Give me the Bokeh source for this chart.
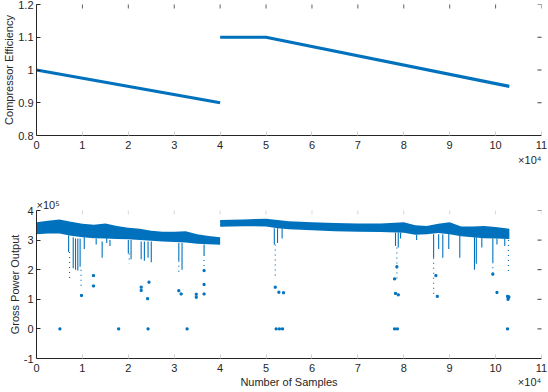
import math
from bokeh.plotting import figure
from bokeh.layouts import column
from bokeh.models import FixedTicker, Range1d, Title, LinearAxis
from bokeh.embed import file_html
from bokeh.resources import INLINE

BLUE = "#0072BD"
TXT = "#262626"
FONT = "Liberation Sans"

# ---------------- ticks ----------------
x_ticks = [0, 10000, 20000, 30000, 40000, 50000, 60000, 70000, 80000, 90000, 100000, 110000]
x_tick_labels = ["0", "1", "2", "3", "4", "5", "6", "7", "8", "9", "10", "11"]
eff_ticks = [0.8, 0.9, 1.0, 1.1, 1.2]
eff_tick_labels = ["0.8", "0.9", "1", "1.1", "1.2"]
pow_ticks = [-1, 0, 1, 2, 3, 4]
pow_tick_labels = ["-1", "0", "1", "2", "3", "4"]

# ---------------- compressor efficiency ----------------
eff_a_x = [0, 40000]
eff_a_y = [1.0, 0.9]
eff_b_x = [40000, 50000, 103000]
eff_b_y = [1.1, 1.1, 0.95]

# ---------------- gross power output (x10^5) ----------------
band1_x = [0, 2500, 5000, 7500, 10000, 12500, 15000, 17500, 20000, 22500, 25000,
           27500, 30000, 32500, 35000, 37500, 40000]
band1_hi = [3.60, 3.65, 3.70, 3.62, 3.55, 3.52, 3.56, 3.48, 3.42, 3.38, 3.32,
            3.28, 3.28, 3.30, 3.20, 3.14, 3.10]
band1_lo = [3.20, 3.22, 3.22, 3.15, 3.10, 3.06, 3.05, 3.04, 3.03, 3.00, 2.98,
            2.95, 2.94, 2.92, 2.88, 2.86, 2.84]
band2_x = [40000, 45000, 50000, 52500, 55000, 60000, 65000, 70000, 75000, 80000,
           82500, 85000, 87500, 90000, 92500, 95000, 97500, 100000, 103000]
band2_hi = [3.68, 3.70, 3.72, 3.68, 3.64, 3.60, 3.58, 3.56, 3.56, 3.60,
            3.50, 3.48, 3.55, 3.60, 3.46, 3.46, 3.48, 3.44, 3.38]
band2_lo = [3.45, 3.47, 3.46, 3.40, 3.37, 3.33, 3.30, 3.28, 3.27, 3.25,
            3.18, 3.20, 3.24, 3.20, 3.13, 3.10, 3.06, 3.05, 3.04]

dip_x = [7000, 8000, 8500, 9000, 9500, 10400, 13000, 14300, 15300, 16000, 20000, 20600,
         22800, 23500, 24300, 25000, 31000, 31700, 36500, 51800, 52500, 53500, 78200,
         78800, 79300, 82800, 86500, 87600, 88500, 89800, 92200, 95400, 95800, 97000,
         99400, 100300, 102000]
dip_top = [3.16, 3.10, 3.05, 3.05, 3.05, 3.10, 3.05, 2.95, 3.10, 3.00, 3.00, 3.00,
           2.95, 2.95, 2.95, 2.95, 2.90, 2.90, 2.85, 3.40, 3.40, 3.40, 3.25,
           3.25, 3.25, 3.18, 3.20, 3.20, 3.20, 3.22, 3.15, 3.10, 3.10, 3.08,
           3.05, 3.05, 3.05]
dip_bottom = [2.60, 2.05, 2.00, 1.97, 2.10, 2.70, 2.85, 2.40, 2.90, 2.80, 2.55, 2.35,
              2.35, 2.30, 2.40, 2.25, 2.30, 2.00, 2.50, 2.85, 2.90, 3.05, 2.80,
              2.75, 3.05, 3.00, 2.40, 2.70, 2.40, 2.70, 2.40, 2.00, 2.20, 2.75,
              2.25, 2.85, 2.80]

sparse_x = [7200, 9700, 20200, 31000, 36500, 52000, 78500, 86500, 99400, 102800]
sparse_top = [2.60, 2.00, 2.55, 2.30, 2.50, 2.85, 2.75, 2.40, 2.25, 3.00]
sparse_bottom = [1.64, 1.45, 2.20, 1.80, 2.00, 1.75, 1.60, 1.15, 1.80, 1.90]

pt_x = [9800, 12400, 12400, 22800, 22800, 24200, 24500, 31000, 31500, 34800, 34800,
        36500, 36500, 36500, 52000, 52800, 53800, 78500, 78000, 78200, 78800, 87300,
        87000, 99400, 100300, 102600, 102800, 102700, 102900,
        5100, 17900, 24300, 32800, 52200, 52900, 53600, 78000, 78600, 102600]
pt_y = [1.13, 1.80, 1.45, 1.41, 1.30, 1.02, 1.58, 1.29, 1.18, 1.07, 1.17,
        1.18, 1.97, 1.50, 1.41, 1.24, 1.22, 2.10, 1.69, 1.20, 1.15, 1.10,
        1.80, 1.85, 1.23, 1.10, 1.05, 1.00, 1.08,
        0, 0, 0, 0, 0, 0, 0, 0, 0, 0]

# bottom caption row: x-axis title and exponent, on one line
caption_x = [55000, 107400]
caption_text = ["Number of Samples", "\u00d710\u2074"]


def style_text_axis(ax):
    ax.axis_line_color = TXT
    ax.axis_line_width = 1
    ax.minor_tick_line_color = None
    ax.major_label_text_font = FONT
    ax.major_label_text_font_size = "11px"
    ax.major_label_text_color = TXT
    ax.axis_label_text_font = FONT
    ax.axis_label_text_font_size = "11px"
    ax.axis_label_text_font_style = "normal"
    ax.axis_label_text_color = TXT


def make_fig(height, yr, yticks, ylabels, ylabel, mb_top, mb_bottom,
             top_tick_color="#9a9a9a"):
    p = figure(width=548, height=height, output_backend="svg", toolbar_location=None,
               x_range=Range1d(0, 110000), y_range=Range1d(*yr),
               min_border_left=35, min_border_right=7,
               min_border_top=mb_top, min_border_bottom=mb_bottom)
    p.outline_line_color = None
    p.grid.visible = False
    p.background_fill_color = "white"
    p.border_fill_color = "white"

    xa = p.xaxis[0]
    xa.ticker = FixedTicker(ticks=x_ticks)
    xa.major_label_overrides = dict(zip(x_ticks, x_tick_labels))
    ya = p.yaxis[0]
    ya.ticker = FixedTicker(ticks=yticks)
    ya.major_label_overrides = dict(zip(yticks, ylabels))
    ya.axis_label = ylabel
    for ax, tc in ((xa, "#d0d0d0"), (ya, TXT)):
        style_text_axis(ax)
        ax.major_tick_in = 4
        ax.major_tick_out = 0
        ax.major_tick_line_color = tc
    xa.major_label_standoff = 5
    ya.major_label_standoff = 3
    ya.axis_label_standoff = 0

    # box ticks on the top and right edges (no box line), half clipped by the frame
    p.scatter(x=x_ticks, y=[yr[1]] * len(x_ticks), marker="dash", angle=math.pi / 2,
              size=8, line_color=top_tick_color, line_width=1)
    p.scatter(x=[110000] * len(yticks), y=yticks, marker="dash", size=8,
              line_color="#404040", line_width=1)
    return p


def exp_title(p, text, place, align):
    t = Title(text=text, align=align, text_font=FONT, text_font_size="11px",
              text_font_style="normal", text_color=TXT, standoff=0, offset=0)
    p.add_layout(t, place)


# ---------- top figure ----------
p1 = make_fig(195, (0.8, 1.2), eff_ticks, eff_tick_labels, "Compressor Efficiency",
              4, 60, top_tick_color="#606060")
p1.line(eff_a_x, eff_a_y, line_color=BLUE, line_width=3.2)
p1.line(eff_b_x, eff_b_y, line_color=BLUE, line_width=3.2)
exp_title(p1, "\u00d710\u2074", "below", "right")

# ---------- bottom figure ----------
p2 = make_fig(197, (-1, 4), pow_ticks, pow_tick_labels, "Gross Power Output",
              15, 34, top_tick_color="#d8d8d8")
p2.varea(x=band1_x, y1=band1_lo, y2=band1_hi, fill_color=BLUE)
p2.varea(x=band2_x, y1=band2_lo, y2=band2_hi, fill_color=BLUE)
p2.segment(x0=dip_x, y0=dip_top, x1=dip_x, y1=dip_bottom, line_color=BLUE, line_width=1.1)
p2.segment(x0=sparse_x, y0=sparse_top, x1=sparse_x, y1=sparse_bottom, line_color=BLUE,
           line_width=1.2, line_dash="1 4")
p2.scatter(pt_x, pt_y, marker="square", size=2, fill_color=BLUE, line_color=BLUE)
exp_title(p2, "\u00d710\u2075", "above", "left")

caption = LinearAxis(ticker=FixedTicker(ticks=caption_x),
                     major_label_overrides=dict(zip(caption_x, caption_text)))
style_text_axis(caption)
caption.axis_line_color = None
caption.major_tick_line_color = None
caption.major_tick_in = 0
caption.major_tick_out = 0
caption.major_label_standoff = 1
p2.add_layout(caption, "below")

layout = column(p1, p2)
open("out.html", "w").write(file_html(layout, INLINE))
